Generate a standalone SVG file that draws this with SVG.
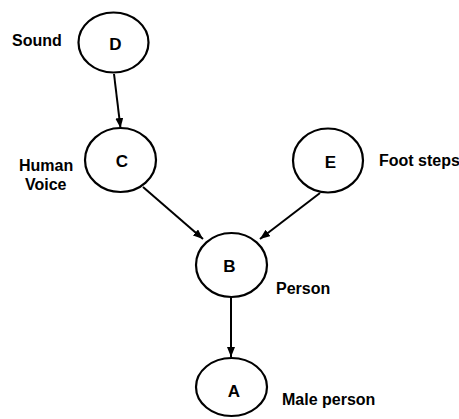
<svg xmlns="http://www.w3.org/2000/svg" width="459" height="419" viewBox="0 0 459 419">
<style>
.node{fill:#fff;stroke:#000;stroke-width:2.2}
.lt{font-family:"Liberation Sans",Arial,sans-serif;font-weight:bold;font-size:17px;fill:#000;text-anchor:middle}
.lb{font-family:"Liberation Sans",Arial,sans-serif;font-weight:bold;font-size:16px;fill:#000}
.edge{stroke:#000;stroke-width:2;fill:none;marker-end:url(#ah)}
</style>
<defs>
<marker id="ah" viewBox="0 0 10 8" refX="10" refY="4" markerWidth="10" markerHeight="8" markerUnits="userSpaceOnUse" orient="auto">
<path d="M0,0 L10,4 L0,8 Z" fill="#000"/>
</marker>
</defs>
<rect width="459" height="419" fill="#fff"/>
<g id="connectors">
<line class="edge" x1="114" y1="74" x2="120.5" y2="128"/>
<line class="edge" x1="143" y1="187" x2="203" y2="239"/>
<line class="edge" x1="320" y1="193" x2="260" y2="239"/>
<line class="edge" x1="231" y1="297" x2="231" y2="357"/>
</g>
<g id="node-D">
<ellipse class="node" cx="113.5" cy="42.5" rx="35" ry="30"/>
<text class="lt" x="115.5" y="50">D</text>
<text class="lb" x="12" y="46">Sound</text>
</g>
<g id="node-C">
<ellipse class="node" cx="120.5" cy="160" rx="35.5" ry="32"/>
<text class="lt" x="122" y="167">C</text>
<text class="lb" x="19" y="171">Human</text>
<text class="lb" x="25" y="190">Voice</text>
</g>
<g id="node-E">
<ellipse class="node" cx="328" cy="160.5" rx="35" ry="32"/>
<text class="lt" x="330.5" y="168">E</text>
<text class="lb" x="379" y="166">Foot steps</text>
</g>
<g id="node-B">
<ellipse class="node" cx="231.5" cy="265" rx="35.5" ry="32"/>
<text class="lt" x="229.5" y="272">B</text>
<text class="lb" x="276" y="294">Person</text>
</g>
<g id="node-A">
<ellipse class="node" cx="231.5" cy="387" rx="35.5" ry="29"/>
<text class="lt" x="234" y="397">A</text>
<text class="lb" x="282" y="405">Male person</text>
</g>
</svg>
